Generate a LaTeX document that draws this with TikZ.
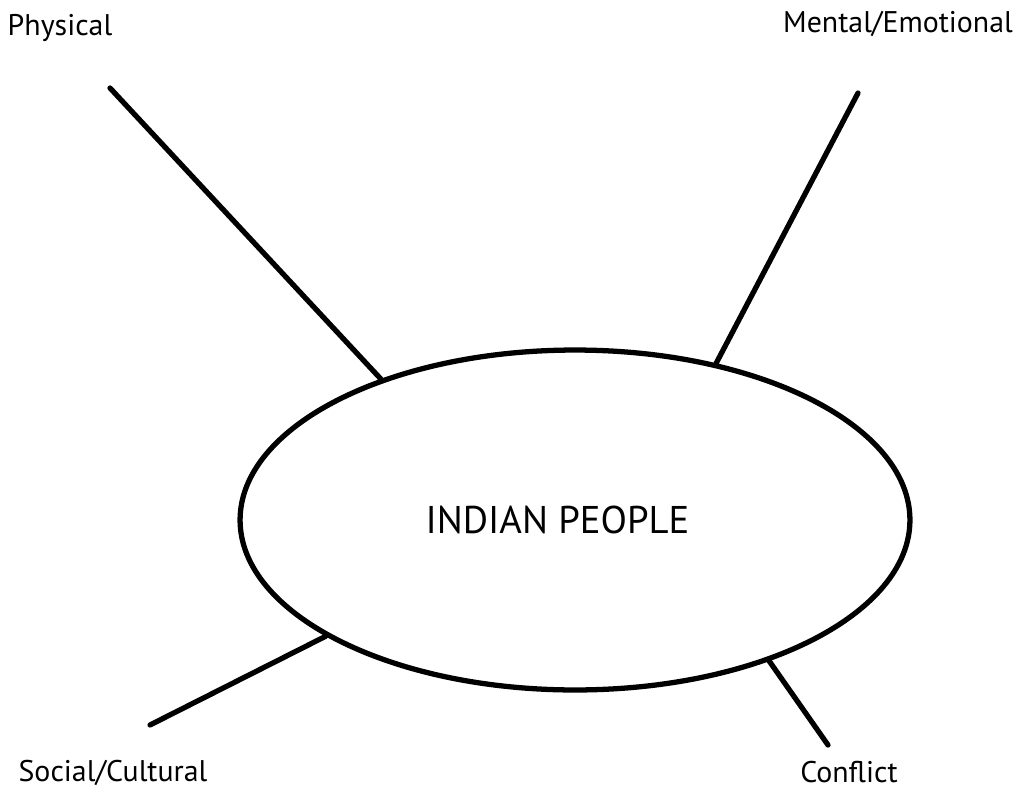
\documentclass[tikz,border=0pt]{standalone}
\usepackage{fontspec}
\setmainfont{PT Sans}
\usetikzlibrary{shapes.geometric}

\begin{document}
\begin{tikzpicture}[x=0.02cm, y=-0.02cm,
      lbl/.style={font=\fontsize{17}{20}\selectfont, inner sep=0pt},
      spoke/.style={line width=3pt, line cap=round},
      hub/.style={draw, ellipse, line width=3pt, minimum width=13.4cm, minimum height=6.8cm, inner sep=0pt, font=\fontsize{22}{26}\selectfont}]
      \useasboundingbox (0,0) rectangle (1024,791);
      \node[hub] (people) at (575,520) {INDIAN PEOPLE\hspace*{0.7cm}};
      % labels
      \node[lbl] (phys) at (60,28) {Physical};
      \node[lbl] (ment) at (898,24) {Mental/Emotional};
      \node[lbl] (soc) at (113,773) {Social/Cultural};
      \node[lbl] (conf) at (849,772) {Conflict};
      % free ends of the spokes
      \coordinate (physend) at (110,88);
      \coordinate (mentend) at (858,93);
      \coordinate (socend) at (150,725);
      \coordinate (confend) at (828,745);
      \draw[spoke] (physend) -- (people.144);
      \draw[spoke] (mentend) -- (people.48);
      \draw[spoke] (socend) -- (people.205);
      \draw[spoke] (confend) -- (people.-36);
    \end{tikzpicture}
\end{document}
